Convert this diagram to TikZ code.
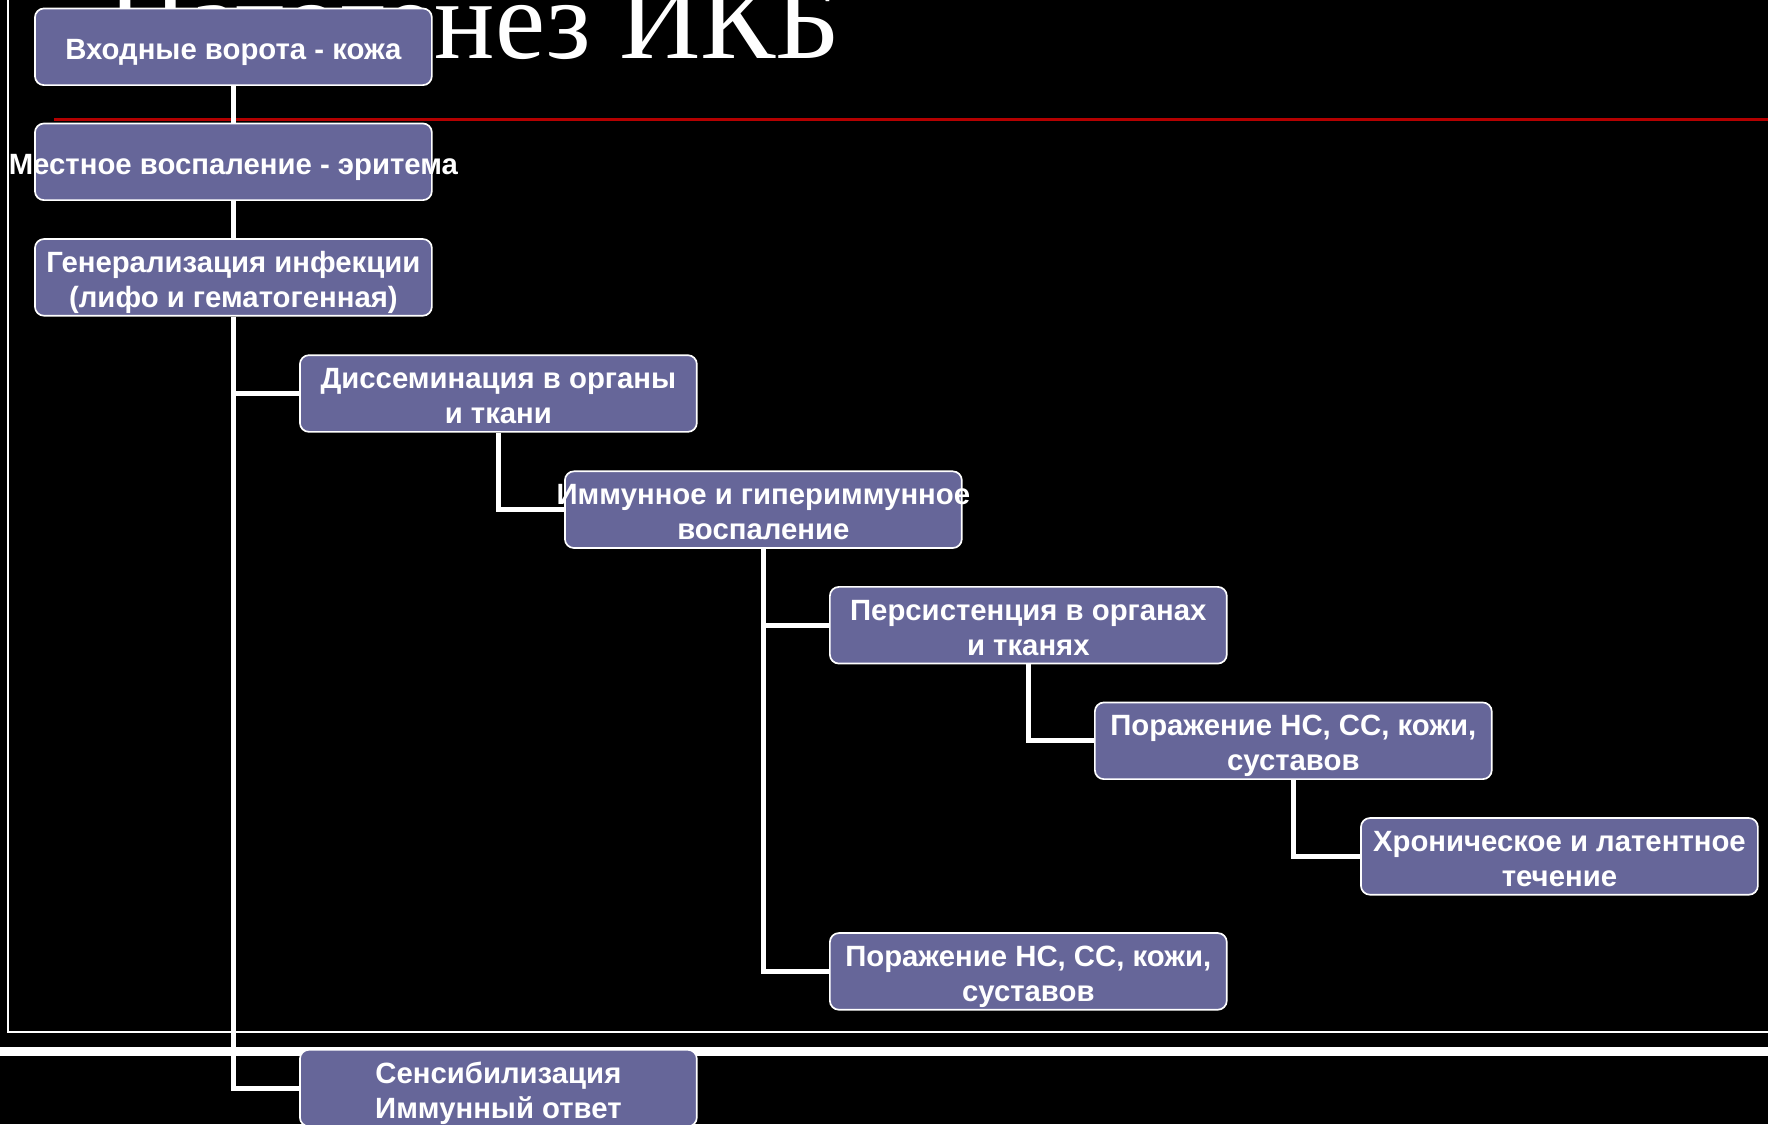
\documentclass[tikz,border=0pt]{standalone}
\usepackage{fontspec}
\setmainfont{Liberation Serif}
\newfontfamily\stagefont{Liberation Sans}
\usetikzlibrary{positioning}
\definecolor{stagefill}{RGB}{102,102,153}
\definecolor{rulered}{RGB}{180,0,0}
\newcommand{\stagetext}[1]{\makebox[0pt]{\raisebox{-5.5pt}[0pt][0pt]{\begin{tabular}{@{}c@{}}#1\end{tabular}}}}
\tikzset{stage/.style = {draw = white, line width = 0.75pt, fill = stagefill, rounded corners = 4pt, inner sep = 0, minimum width = 176pt, minimum height = 34pt, text = white, font = \stagefont\bfseries\fontsize{13}{15.5}\selectfont}}
\tikzset{link/.style = {draw = white, line width = 2.25pt}}

\begin{document}
\begin{tikzpicture}[x = 0.5pt, y = -0.5pt]
    \useasboundingbox (0, 0) rectangle (1568, 997);
    \clip (0, 0) rectangle (1568, 997);
    \fill [black] (0, 0) rectangle (1568, 997);

    \node (title) [anchor = base east, inner sep = 0, text = white, font = \fontsize{50}{60}\selectfont] at (746, 52) {Патогенез ИКБ};
    \draw [rulered, line width = 1.5pt] (48, 106) -- (1568, 106);
    \draw [white, line width = 0.9pt] (7, 0) -- (7, 915) -- (1568, 915);
    \draw [white, line width = 4pt] (0, 932.5) -- (1568, 932.5);

    \node (b1) [stage] at (207, 41.5) {\stagetext{Входные ворота - кожа}};
    \node (b2) [stage] at (207, 143.5) {\stagetext{Местное воспаление - эритема}};
    \node (b3) [stage] at (207, 246) {\stagetext{Генерализация инфекции\\(лифо и гематогенная)}};
    \node (b4) [stage] at (442, 349) {\stagetext{Диссеминация в органы\\и ткани}};
    \node (b5) [stage] at (677, 452) {\stagetext{Иммунное и гипериммунное\\воспаление}};
    \node (b6) [stage] at (912, 554.5) {\stagetext{Персистенция в органах\\и тканях}};
    \node (b7) [stage] at (1147, 657) {\stagetext{Поражение НС, СС, кожи,\\суставов}};
    \node (b8) [stage] at (1383, 759.5) {\stagetext{Хроническое и латентное\\течение}};
    \node (b9) [stage] at (912, 861.5) {\stagetext{Поражение НС, СС, кожи,\\суставов}};
    \node (b10) [stage] at (442, 965) {\stagetext{Сенсибилизация\\Иммунный ответ}};

    \draw [link] (b1) -- (b2);
    \draw [link] (b2) -- (b3);
    \draw [link] (b3.south) |- (b4.west);
    \draw [link] (b3.south) |- (b10.west);
    \draw [link] (b4.south) |- (b5.west);
    \draw [link] (b5.south) |- (b6.west);
    \draw [link] (b5.south) |- (b9.west);
    \draw [link] (b6.south) |- (b7.west);
    \draw [link] (b7.south) |- (b8.west);
  \end{tikzpicture}
\end{document}
